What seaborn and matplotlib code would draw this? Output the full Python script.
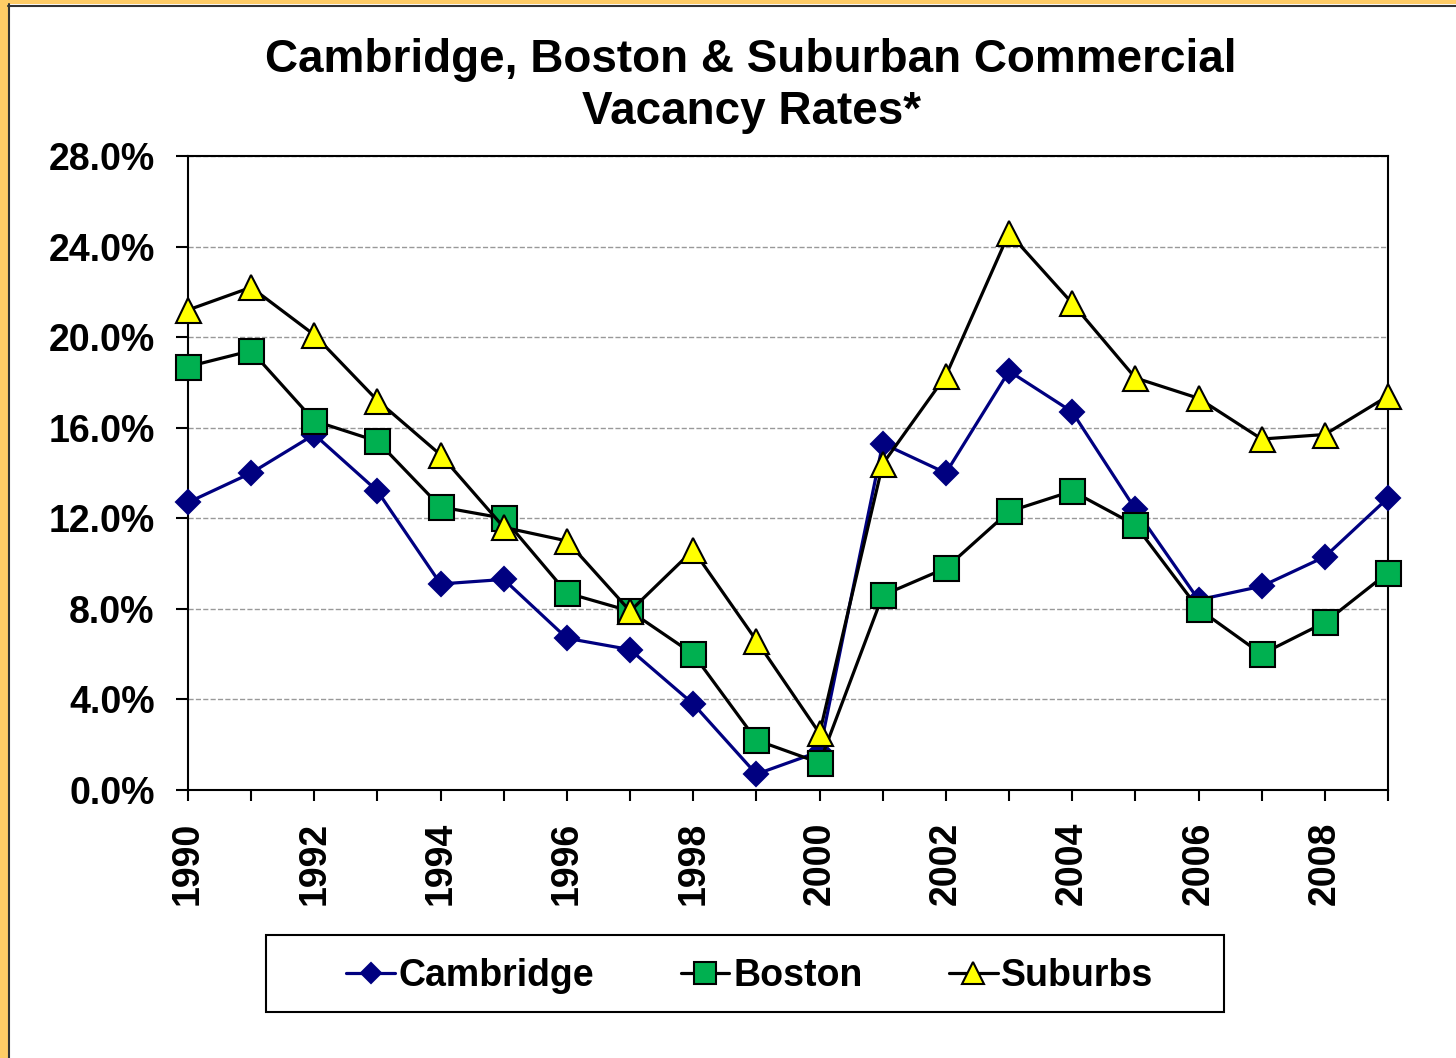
import matplotlib.pyplot as plt
import seaborn as sns
from matplotlib.patches import Rectangle
from matplotlib.lines import Line2D

# Vacancy rates (%)
years = list(range(1990, 2010))
cambridge = [12.7, 14.0, 15.7, 13.2, 9.1, 9.3, 6.7, 6.2, 3.8, 0.7,
             1.7, 15.3, 14.0, 18.5, 16.7, 12.4, 8.4, 9.0, 10.3, 12.9]
boston = [18.7, 19.4, 16.3, 15.4, 12.5, 12.0, 8.7, 7.9, 6.0, 2.2,
          1.2, 8.6, 9.8, 12.3, 13.2, 11.7, 8.0, 6.0, 7.4, 9.6]
suburbs = [21.2, 22.2, 20.1, 17.2, 14.8, 11.6, 11.0, 7.9, 10.6, 6.6,
           2.5, 14.4, 18.3, 24.6, 21.5, 18.2, 17.3, 15.5, 15.7, 17.4]

series_names = ['Cambridge', 'Boston', 'Suburbs']
y_ticks = [0, 4, 8, 12, 16, 20, 24, 28]
y_tick_labels = ['0.0%', '4.0%', '8.0%', '12.0%', '16.0%', '20.0%', '24.0%', '28.0%']
x_tick_labels = [str(y) if y % 2 == 0 else '' for y in years]

sns.set_theme(style='white')
plt.rcParams['font.family'] = ['Liberation Sans', 'DejaVu Sans']
plt.rcParams['font.weight'] = 'bold'
plt.rcParams['text.color'] = 'black'
plt.rcParams['xtick.color'] = 'black'
plt.rcParams['ytick.color'] = 'black'

W, H = 1456, 1058
fig = plt.figure(figsize=(W / 100, H / 100), dpi=100)
fig.patch.set_facecolor('white')
ax = fig.add_axes([188 / W, 1 - 790 / H, 1200 / W, 634 / H])

styles = [
    dict(color='#000080', marker='D', markersize=12.5, markerfacecolor='#000080', markeredgecolor='#000080'),
    dict(color='black', marker='s', markersize=18, markerfacecolor='#00B050', markeredgecolor='black'),
    dict(color='black', marker='^', markersize=18, markerfacecolor='#FFFF00', markeredgecolor='black'),
]

for vals, st in zip([cambridge, boston, suburbs], styles):
    sns.lineplot(x=years, y=vals, ax=ax, linewidth=2.3, markeredgewidth=1.5,
                 clip_on=False, zorder=3, **st)

ax.set_xlim(1990, 2009)
ax.set_ylim(0, 28)
ax.set_xticks(years)
ax.set_xticklabels(x_tick_labels, rotation=90)
ax.set_yticks(y_ticks)
ax.set_yticklabels(y_tick_labels)
ax.tick_params(axis='x', bottom=True, direction='out', length=8, width=1.5,
               color='black', labelcolor='black', labelsize=27, pad=15)
ax.tick_params(axis='y', left=True, direction='out', length=9, width=1.5,
               color='black', labelcolor='black', labelsize=27, pad=15)
for lab in ax.get_xticklabels() + ax.get_yticklabels():
    lab.set_fontweight('bold')

ax.yaxis.grid(True, linestyle='--', color='#999999', linewidth=1)
ax.set_axisbelow(True)
for sp in ax.spines.values():
    sp.set_visible(True)
    sp.set_color('black')
    sp.set_linewidth(1.5)

# Title
fig.text(751 / W, 1 - 38 / H, 'Cambridge, Boston & Suburban Commercial\nVacancy Rates*',
         ha='center', va='top', fontsize=33, fontweight='bold', linespacing=1.25,
         color='black')

# Legend with its own frame
handles = ax.get_lines()[:3]
leg = fig.legend(handles, series_names, loc='center', bbox_to_anchor=(750 / W, 1 - 976 / H),
                 ncol=3, frameon=False, fontsize=27, handlelength=1.3, handletextpad=0.1,
                 columnspacing=2.3, markerscale=0.85)
for t in leg.get_texts():
    t.set_color('black')
fig.patches.append(Rectangle((266 / W, 1 - 1012 / H), 958 / W, 77 / H,
                             transform=fig.transFigure, fill=False,
                             edgecolor='black', linewidth=1.5))

# Orange border on the left and top edges
orange = '#FFCC66'
fig.patches.append(Rectangle((0, 0), 8 / W, 1, transform=fig.transFigure,
                             facecolor=orange, edgecolor='none'))
fig.patches.append(Rectangle((0, 1 - 4 / H), 1, 4 / H, transform=fig.transFigure,
                             facecolor=orange, edgecolor='none'))
fig.lines.append(Line2D([9 / W, 9 / W], [0, 1 - 4 / H], transform=fig.transFigure,
                        color='#333333', linewidth=1.5))
fig.lines.append(Line2D([8 / W, 1], [1 - 5.5 / H, 1 - 5.5 / H], transform=fig.transFigure,
                        color='#333333', linewidth=1.5))

fig.savefig('out.png', dpi=100)
